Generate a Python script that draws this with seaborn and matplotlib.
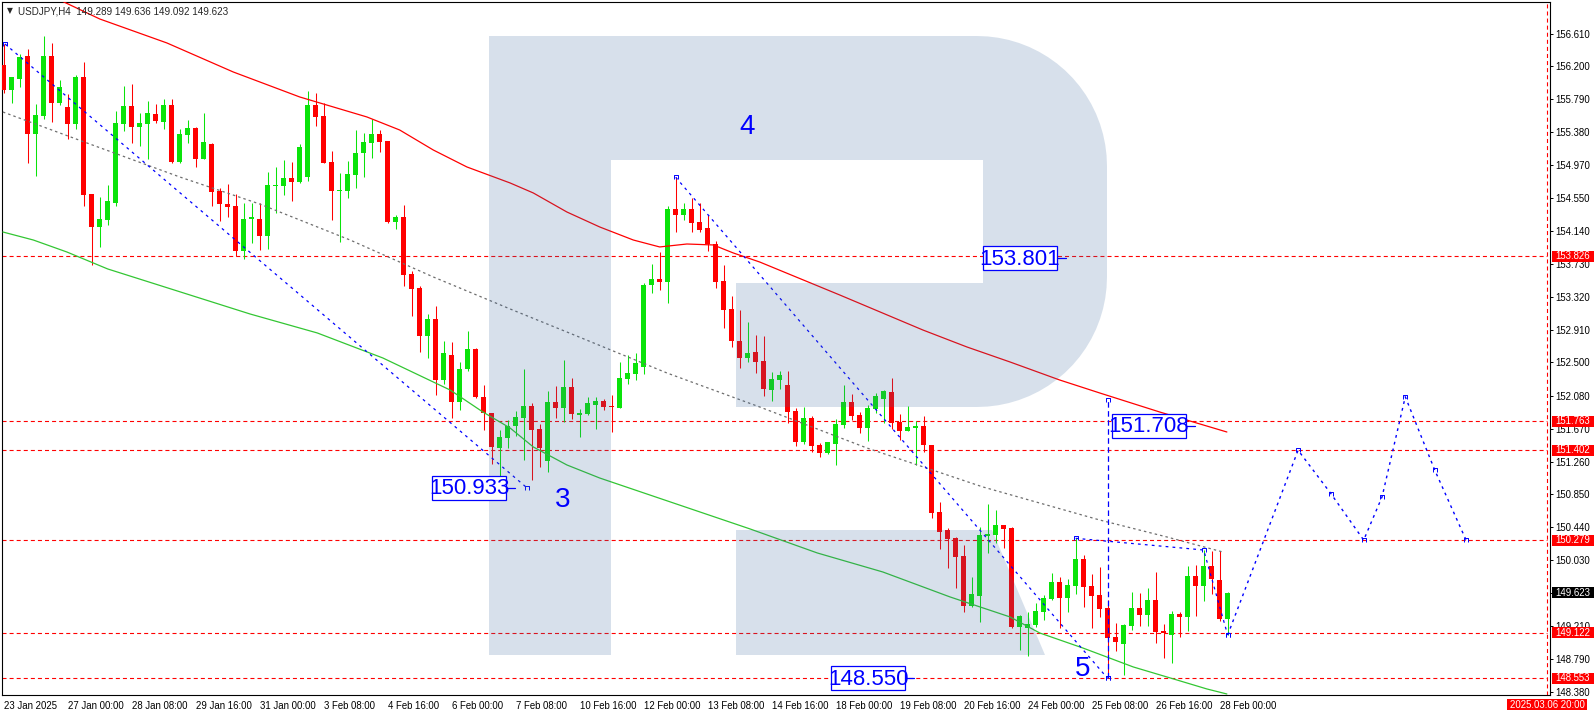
import numpy as np
import pandas as pd
import matplotlib
matplotlib.use("Agg")
import matplotlib.pyplot as plt
import matplotlib.transforms as mtransforms
from matplotlib.patches import Polygon, Rectangle
from matplotlib.path import Path
import seaborn as sns

# ---- USDJPY H4 candles (bar 0 = 23 Jan 2025) ----
opens = [156.218, 155.905, 156.039, 156.330, 155.355, 155.580, 156.330, 155.746, 155.689, 155.480,
         156.068, 154.605, 154.196, 154.280, 154.496, 155.484, 155.705, 155.443, 155.484, 155.605,
         155.509, 155.718, 155.009, 155.346, 155.430, 155.046, 155.230, 154.639, 154.484, 154.455,
         153.896, 154.289, 154.293, 154.084, 154.705, 154.705, 154.805, 154.755, 154.821, 155.718,
         155.580, 155.009, 154.646, 154.646, 154.843, 155.114, 155.246, 155.355, 155.268, 154.255,
         154.318, 153.605, 153.430, 152.834, 153.043, 152.280, 152.593, 152.009, 152.414, 152.668,
         152.071, 151.864, 151.426, 151.561, 151.709, 151.809, 151.951, 151.668, 151.271, 152.005,
         151.934, 152.193, 151.846, 151.859, 151.971, 152.018, 151.955, 151.934, 152.296, 152.359,
         152.446, 153.471, 153.543, 153.509, 154.418, 154.346, 154.418, 154.255, 154.180, 153.980,
         153.521, 153.168, 152.768, 152.559, 152.624, 152.518, 152.155, 152.280, 152.218, 151.896,
         151.509, 151.805, 151.468, 151.364, 151.480, 151.718, 152.009, 151.843, 151.684, 151.918,
         152.043, 152.130, 151.759, 151.646, 151.684, 151.705, 151.468, 150.630, 150.405, 150.305,
         150.080, 149.459, 149.584, 150.334, 150.343, 150.468, 150.426, 149.196, 149.184, 149.218,
         149.384, 149.543, 149.759, 149.559, 149.705, 150.043, 149.705, 149.593, 149.430, 149.071,
         148.984, 149.209, 149.430, 149.346, 149.530, 149.143, 149.096, 149.355, 149.321, 149.830,
         149.709, 149.955, 149.780, 149.289]
highs = [156.480, 156.068, 156.355, 156.414, 155.730, 156.580, 156.489, 156.030, 155.851, 156.093,
         156.255, 154.605, 154.571, 154.718, 155.643, 155.955, 155.980, 155.621, 155.771, 155.730,
         155.789, 155.793, 155.418, 155.530, 155.446, 155.621, 155.239, 154.676, 154.730, 154.605,
         154.489, 154.493, 154.489, 154.884, 154.946, 155.030, 155.005, 155.230, 155.896, 155.871,
         155.739, 155.143, 154.871, 155.018, 155.401, 155.371, 155.539, 155.405, 155.268, 154.343,
         154.468, 153.639, 153.459, 153.105, 153.205, 152.768, 152.751, 152.501, 152.893, 152.684,
         152.218, 151.864, 151.655, 151.786, 151.896, 152.418, 151.989, 151.726, 152.143, 152.205,
         152.530, 152.301, 151.918, 152.064, 152.064, 152.046, 152.093, 152.509, 152.593, 152.614,
         153.489, 153.730, 153.880, 154.459, 154.814, 154.496, 154.551, 154.489, 154.343, 154.014,
         153.714, 153.334, 153.155, 153.001, 152.843, 152.830, 152.380, 152.393, 152.393, 151.930,
         151.939, 151.830, 151.496, 151.505, 151.789, 152.218, 152.105, 151.884, 151.968, 152.114,
         152.155, 152.301, 151.855, 151.955, 151.771, 151.830, 151.468, 150.759, 150.430, 150.321,
         150.218, 149.818, 150.446, 150.730, 150.655, 150.468, 150.439, 149.343, 149.384, 149.496,
         149.593, 149.864, 149.814, 149.793, 150.301, 150.093, 149.855, 149.939, 149.530, 149.239,
         149.230, 149.630, 149.614, 149.676, 149.884, 149.230, 149.393, 149.380, 149.955, 149.964,
         150.155, 150.143, 150.143, 149.636]
lows = [155.868, 155.746, 155.946, 154.996, 154.834, 155.539, 155.509, 155.718, 155.289, 155.414,
        154.455, 153.714, 153.946, 154.218, 154.455, 155.396, 155.246, 155.205, 155.046, 155.489,
        155.418, 154.996, 154.996, 155.246, 154.939, 155.046, 154.455, 154.271, 154.314, 153.830,
        153.789, 153.993, 153.905, 153.918, 154.364, 154.593, 154.518, 154.739, 154.768, 155.455,
        154.996, 154.280, 154.009, 154.551, 154.684, 154.821, 155.055, 155.134, 154.246, 154.168,
        153.459, 153.084, 152.634, 152.551, 152.096, 152.230, 151.801, 151.905, 152.396, 152.051,
        151.655, 151.230, 150.933, 151.426, 151.584, 151.280, 151.030, 151.189, 151.134, 151.809,
        151.759, 151.796, 151.564, 151.843, 151.671, 151.905, 151.634, 151.934, 152.226, 152.280,
        152.351, 153.364, 153.405, 153.239, 154.134, 154.280, 154.126, 154.134, 153.896, 153.426,
        152.926, 152.689, 152.434, 152.509, 152.371, 152.084, 152.021, 152.168, 151.739, 151.455,
        151.484, 151.384, 151.321, 151.355, 151.218, 151.676, 151.780, 151.621, 151.521, 151.864,
        151.739, 151.664, 151.530, 151.646, 151.218, 151.384, 150.559, 150.164, 149.934, 149.684,
        149.384, 149.446, 149.259, 150.114, 150.246, 150.176, 149.176, 148.905, 148.834, 149.196,
        149.280, 149.530, 149.176, 149.376, 149.605, 149.446, 149.184, 149.321, 148.550, 148.896,
        148.593, 149.155, 149.205, 149.205, 148.996, 148.801, 148.739, 149.064, 149.146, 149.336,
        149.521, 149.605, 149.268, 149.092]
closes = [155.905, 156.064, 156.314, 155.355, 155.589, 156.330, 155.746, 155.939, 155.480, 156.068,
          154.596, 154.196, 154.293, 154.514, 155.493, 155.705, 155.443, 155.493, 155.618, 155.521,
          155.718, 155.009, 155.355, 155.430, 155.046, 155.255, 154.634, 154.484, 154.446, 153.896,
          154.293, 154.314, 154.084, 154.718, 154.718, 154.805, 154.759, 155.193, 155.718, 155.571,
          154.996, 154.646, 154.655, 154.855, 155.118, 155.255, 155.355, 155.259, 154.255, 154.321,
          153.596, 153.421, 152.834, 153.043, 152.280, 152.618, 152.009, 152.414, 152.668, 152.071,
          151.864, 151.446, 151.564, 151.711, 151.818, 151.955, 151.659, 151.434, 152.005, 151.934,
          152.193, 151.859, 151.868, 151.993, 152.018, 151.946, 151.939, 152.305, 152.368, 152.493,
          153.471, 153.543, 153.509, 154.418, 154.346, 154.418, 154.246, 154.155, 153.976, 153.509,
          153.159, 152.771, 152.559, 152.618, 152.511, 152.168, 152.289, 152.343, 151.884, 151.509,
          151.805, 151.455, 151.371, 151.505, 151.730, 152.009, 151.830, 151.684, 151.930, 152.080,
          152.146, 151.746, 151.646, 151.693, 151.705, 151.468, 150.621, 150.384, 150.296, 150.071,
          149.459, 149.605, 150.343, 150.359, 150.468, 150.418, 149.193, 149.330, 149.230, 149.393,
          149.551, 149.759, 149.559, 149.718, 150.043, 149.696, 149.584, 149.421, 149.059, 149.001,
          149.218, 149.430, 149.346, 149.530, 149.134, 149.114, 149.355, 149.321, 149.830, 149.709,
          149.955, 149.789, 149.289, 149.623]

# moving averages and trend line (bar position, price)
red_ma_x = [7.0, 12.0, 20.4, 28.7, 37.0, 45.4, 49.5, 53.7, 57.9, 63.3, 66.2, 70.4, 74.5, 78.7,
            82.0, 85.4, 88.7, 91.2, 94.5, 104.5, 114.9, 120.4, 125.8, 132.0, 137.0, 144.5, 148.7, 152.9]
red_ma_y = [157.030, 156.793, 156.493, 156.130, 155.818, 155.568, 155.405, 155.155, 154.943, 154.743,
            154.618, 154.380, 154.193, 154.030, 153.943, 153.980, 153.968, 153.868, 153.755, 153.343,
            152.905, 152.693, 152.505, 152.280, 152.118, 151.880, 151.755, 151.630]
green_ma_x = [-0.1, 3.7, 7.9, 13.0, 30.8, 39.2, 47.4, 55.8, 59.9, 63.3, 66.2, 70.4, 74.5, 93.3,
              101.7, 109.9, 118.3, 125.8, 129.5, 134.9, 141.2, 145.4, 150.4, 152.9]
green_ma_y = [154.130, 154.030, 153.880, 153.668, 153.105, 152.868, 152.555, 152.155, 151.880, 151.680,
              151.443, 151.218, 151.055, 150.418, 150.118, 149.880, 149.568, 149.318, 149.118, 148.930,
              148.693, 148.568, 148.418, 148.355]
grey_ma_x = [-0.1, 10.4, 22.0, 32.0, 43.3, 53.7, 63.3, 70.4, 82.9, 94.5, 107.9, 122.4, 137.0, 145.4, 152.4]
grey_ma_y = [155.630, 155.243, 154.818, 154.480, 154.030, 153.568, 153.168, 152.880, 152.368, 151.943,
             151.430, 150.943, 150.530, 150.318, 150.130]

# wave markup
wave3_x = [0.16, 65.4]
wave3_y = [156.480, 150.933]
wave5_x = [84, 138]
wave5_y = [154.814, 148.550]
tri_x = [134, 150, 153]
tri_y = [150.301, 150.155, 149.092]
proj_x = [153, 161.8, 165.9, 170.0, 172.3, 175.2, 178.9, 182.8]
proj_y = [149.092, 151.402, 150.860, 150.279, 150.820, 152.070, 151.150, 150.279]
target_bar = 138
target_span = [148.550, 152.030]

levels = [153.826, 151.763, 151.402, 150.279, 149.122, 148.553]
last_price = 149.623
ytick_vals = [156.610, 156.200, 155.790, 155.380, 154.970, 154.550, 154.140, 153.730, 153.320,
              152.910, 152.500, 152.080, 151.670, 151.260, 150.850, 150.440, 150.030, 149.620,
              149.210, 148.790, 148.380]
xtick_bars = list(range(0, 153, 8))
xtick_labels = ["23 Jan 2025", "27 Jan 00:00", "28 Jan 08:00", "29 Jan 16:00", "31 Jan 00:00",
                "3 Feb 08:00", "4 Feb 16:00", "6 Feb 00:00", "7 Feb 08:00", "10 Feb 16:00",
                "12 Feb 00:00", "13 Feb 08:00", "14 Feb 16:00", "18 Feb 00:00", "19 Feb 08:00",
                "20 Feb 16:00", "24 Feb 00:00", "25 Feb 08:00", "26 Feb 16:00", "28 Feb 00:00"]
price_notes = ["153.801", "151.708", "150.933", "148.550"]
note_prices = [153.801, 151.708, 150.933, 148.550]
wave_names = ["3", "4", "5"]

# ---- style ----
sns.set_style("white")
plt.rcParams['font.family'] = ['Liberation Sans', 'DejaVu Sans']
plt.rcParams['lines.scale_dashes'] = False

GREEN = '#0ae30a'
RED = '#ff0000'
BLUE = '#0000ff'
W, H = 1596, 716

fig = plt.figure(figsize=(W / 100, H / 100), dpi=100)
ax = fig.add_axes([2 / W, 1 - 695 / H, 1548 / W, 693 / H])
ax.set_xlim(-0.2125, 193.29)
ax.set_ylim(148.3425, 157.005)
px = mtransforms.Affine2D().scale(1 / W, -1 / H).translate(0, 1) + fig.transFigure


def ypx(p):
    return H - ax.transData.transform((0, p))[1]


# small open bracket used by MT4 on object anchor points
anchor = Path([(-1, -1), (-1, 1), (1, 1), (1, -1)],
              [Path.MOVETO, Path.LINETO, Path.LINETO, Path.LINETO])

# candles
df = pd.DataFrame({'o': opens, 'h': highs, 'l': lows, 'c': closes})
df['bar'] = np.arange(len(df))
col = np.where(df['c'] >= df['o'], GREEN, RED)
ax.vlines(df['bar'], df['l'], df['h'], colors=col, lw=0.75, zorder=3)
body_lo = np.minimum(df['o'], df['c'])
body_h = np.maximum((df['c'] - df['o']).abs(), 0.0125)
ax.bar(df['bar'], body_h, bottom=body_lo, width=0.62, color=col, lw=0, zorder=4)

# indicator lines
sns.lineplot(x=red_ma_x, y=red_ma_y, ax=ax, color=RED, lw=0.9, zorder=5)
sns.lineplot(x=green_ma_x, y=green_ma_y, ax=ax, color='#33c633', lw=0.9, zorder=5)
ax.plot(grey_ma_x, grey_ma_y, color='#6e6e6e', lw=0.9, ls=(0, (1.8, 2.2)), zorder=5)

# horizontal levels and the right-hand time line
for lv in levels:
    ax.axhline(lv, xmax=0.998, color=RED, lw=0.8, ls=(0, (2.9, 2.2)), zorder=2)
ax.axvline(192.9, color=RED, lw=0.8, ls=(0, (2.9, 2.2)), zorder=2)

# wave markup
dots = (0, (2.0, 3.0))
mk = dict(marker=anchor, markersize=3.5, markerfacecolor='none', markeredgecolor=BLUE,
          markeredgewidth=0.7)
ax.plot(wave3_x, wave3_y, color=BLUE, lw=0.9, ls=dots, zorder=5, **mk)
ax.plot(wave5_x, wave5_y, color=BLUE, lw=0.9, ls=dots, zorder=5, **mk)
ax.plot(tri_x, tri_y, color=BLUE, lw=0.9, ls=dots, zorder=5, **mk)
ax.plot(proj_x, proj_y, color=BLUE, lw=1.0, ls=dots, zorder=9, **mk)
ax.plot([target_bar, target_bar], target_span, color=BLUE, lw=0.9, ls=(0, (4, 2.5)),
        zorder=5, **mk)

# background "R" logo (semi-transparent overlay)
logo_col = (56 / 255, 102 / 255, 158 / 255)
r = 130
a1 = np.linspace(-np.pi / 2, 0, 20)
a2 = np.linspace(0, np.pi / 2, 20)
outer = [(489, 655), (489, 36)]
outer += [(1107 - r + r * np.cos(t), 36 + r + r * np.sin(t)) for t in a1]
outer += [(1107 - r + r * np.cos(t), 407 - r + r * np.sin(t)) for t in a2]
outer += [(736, 407), (736, 283), (983, 283), (983, 160), (611, 160), (611, 655)]
ax.add_patch(Polygon(outer, closed=True, transform=px, facecolor=logo_col, alpha=0.2,
                     lw=0, zorder=6))
leg = [(736, 530), (992, 530), (1045, 655), (736, 655)]
ax.add_patch(Polygon(leg, closed=True, transform=px, facecolor=logo_col, alpha=0.2,
                     lw=0, zorder=6))

# wave numbers
for name, (x, y) in zip(wave_names, [(563, 500), (747, 127), (1083, 669)]):
    ax.text(x, y, name, transform=px, color=BLUE, fontsize=20, ha='center', va='center',
            zorder=10)

# price notes in blue frames
narrow = ['Liberation Sans Narrow', 'Liberation Sans', 'DejaVu Sans']
for txt, p, x0 in zip(price_notes, note_prices, [983, 1112, 432, 831]):
    yc = ypx(p)
    ax.add_patch(Rectangle((x0, yc - 12), 74, 24, transform=px, facecolor='white',
                           edgecolor=BLUE, lw=0.9, zorder=10))
    ax.plot([x0 + 74, x0 + 83], [yc, yc], transform=px, color=BLUE, lw=0.9, zorder=10)
    ax.text(x0 + 37, yc + 1, txt, transform=px, color=BLUE, fontsize=16,
            family=narrow, ha='center', va='center', zorder=11)

# header
ax.text(7, 11, "\u25bc", transform=px, fontsize=5.5, va='center', ha='left',
        family=['DejaVu Sans'], zorder=12)
ax.text(18, 11, "USDJPY,H4  149.289 149.636 149.092 149.623", transform=px,
        fontsize=7.1, va='center', ha='left', zorder=12)

# axes
for s in ax.spines.values():
    s.set_color('black')
    s.set_linewidth(0.8)
ax.yaxis.tick_right()
ax.set_yticks(ytick_vals)
ax.set_yticklabels([f"{v:.3f}" for v in ytick_vals])
ax.tick_params(axis='y', direction='out', length=2.5, width=0.7, pad=1.5, labelsize=6.9,
               colors='black')
ax.set_xticks(xtick_bars)
ax.set_xticklabels(xtick_labels)
ax.tick_params(axis='x', direction='out', length=3, width=0.7, pad=1.5, labelsize=6.9,
               colors='black')
for lbl in ax.get_xticklabels():
    lbl.set_ha('left')

# right-side price boxes
for lv in levels:
    yc = ypx(lv)
    ax.add_patch(Rectangle((1552, yc - 5.5), 42, 11, transform=px, facecolor=RED, lw=0,
                           clip_on=False, zorder=12))
    ax.text(1573, yc, f"{lv:.3f}", transform=px, color='white', fontsize=6.9, ha='center',
            va='center', clip_on=False, zorder=13)
yc = ypx(last_price)
ax.add_patch(Rectangle((1552, yc - 5.5), 42, 11, transform=px, facecolor='black', lw=0,
                       clip_on=False, zorder=12))
ax.text(1573, yc, f"{last_price:.3f}", transform=px, color='white', fontsize=6.9, ha='center',
        va='center', clip_on=False, zorder=13)
ax.add_patch(Rectangle((1507, 699), 80, 11, transform=px, facecolor=RED, lw=0,
                       clip_on=False, zorder=12))
ax.text(1547, 704.5, "2025.03.06 20:00", transform=px, color='white', fontsize=6.9,
        ha='center', va='center', clip_on=False, zorder=13)

fig.savefig("out.png", dpi=100)
